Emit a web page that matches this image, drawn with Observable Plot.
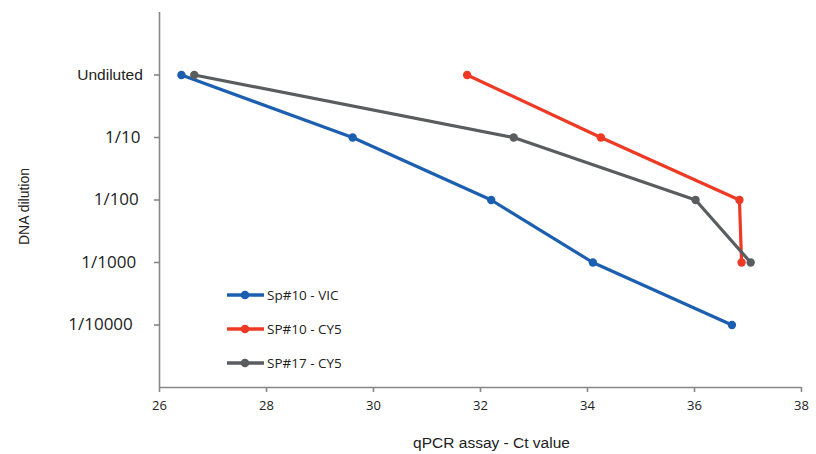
<!DOCTYPE html>
<html>
<head>
<meta charset="utf-8">
<script src="https://cdn.jsdelivr.net/npm/d3@7"></script>
<script src="https://cdn.jsdelivr.net/npm/@observablehq/plot@0.6"></script>
<style>
  html, body { margin: 0; padding: 0; background: #ffffff; }
  #wrap { position: relative; width: 816px; height: 454px; overflow: hidden; }
  .legend { position: absolute; left: 227px; top: 0; font-family: "Open Sans", sans-serif; font-size: 13.5px; color: #222; }
  .row { position: absolute; left: 0; height: 20px; display: flex; align-items: center; white-space: nowrap; }
  .row svg { display: block; margin-right: 3px; }
</style>
</head>
<body>
<div id="wrap"></div>
<script>
// Dilution levels (top to bottom) and their numeric level on the y axis
const dilutions = ["Undiluted", "1/10", "1/100", "1/1000", "1/10000"];
const levels = [5, 4, 3, 2, 1];

// Series names and colours
const seriesNames = ["Sp#10 - VIC", "SP#10 - CY5", "SP#17 - CY5"];
const seriesColors = ["#1c5fb1", "#ee3a24", "#595d60"];

// Ct values per dilution (Undiluted first)
const vicCt   = [26.41, 29.61, 32.20, 34.10, 36.70];
const cy5sp10 = [31.75, 34.25, 36.84, 36.88];
const cy5sp17 = [26.65, 32.62, 36.02, 37.05];

// x tick values
const xTicks = [26, 28, 30, 32, 34, 36, 38];

const seriesValues = [vicCt, cy5sp10, cy5sp17];
const data = seriesValues.flatMap((vals, s) =>
  vals.map((ct, i) => ({series: seriesNames[s], ct, level: levels[i]}))
);

const axisGray = "#878787";
const textColor = "#222";

// per-label style (font and padding) for the y tick labels
const yLabelStyle = [
  {font: "Liberation Sans", size: 15.5, pad: 11.7},
  {font: "Open Sans", size: 17, pad: 14},
  {font: "Open Sans", size: 17, pad: 15.7},
  {font: "Open Sans", size: 17, pad: 18.3},
  {font: "Open Sans", size: 17, pad: 21.7}
];

const yAxes = levels.map((lv, i) => Plot.axisY([lv], {
  tickSize: 5, tickPadding: yLabelStyle[i].pad, stroke: axisGray, strokeWidth: 1.6,
  fill: textColor, fontSize: yLabelStyle[i].size, fontFamily: yLabelStyle[i].font,
  tickFormat: () => dilutions[i], label: null
}));

const chart = Plot.plot({
  width: 816,
  height: 454,
  marginLeft: 159,
  marginRight: 15,
  marginTop: 12,
  marginBottom: 67,
  style: {background: "#ffffff", overflow: "visible"},
  x: {domain: [26, 38]},
  y: {domain: [0, 6]},
  color: {domain: seriesNames, range: seriesColors},
  marks: [
    Plot.ruleY([0], {stroke: axisGray, strokeWidth: 1.6}),
    Plot.ruleX([26], {stroke: axisGray, strokeWidth: 1.6}),
    Plot.axisX(xTicks, {
      tickSize: 5, tickPadding: 8, stroke: axisGray, strokeWidth: 1.6,
      fill: textColor, fontSize: 13, fontFamily: "Open Sans", label: null
    }),
    ...yAxes,
    Plot.line(data, {x: "ct", y: "level", z: "series", stroke: "series", strokeWidth: 3.2, curve: "linear"}),
    Plot.dot(data, {x: "ct", y: "level", fill: "series", r: 4.2, stroke: "none"}),
    Plot.text(["qPCR assay - Ct value"], {
      frameAnchor: "bottom", dx: 11, dy: 56, lineAnchor: "middle",
      fontSize: 15.5, fontFamily: "Liberation Sans", fill: textColor
    }),
    Plot.text(["DNA dilution"], {
      frameAnchor: "left", dx: -134.5, dy: 6.5, rotate: -90, lineAnchor: "middle", textAnchor: "middle",
      fontSize: 14, fontFamily: "Liberation Sans", fill: textColor
    })
  ]
});

const wrap = document.getElementById("wrap");
wrap.appendChild(chart);

// Legend (inside the plot area)
const legend = document.createElement("div");
legend.className = "legend";
const rowTops = [284.5, 318.5, 352.5];
seriesNames.forEach((name, i) => {
  const row = document.createElement("div");
  row.className = "row";
  row.style.top = rowTops[i] + "px";
  row.innerHTML =
    `<svg width="37" height="20"><line x1="0" y1="10" x2="37" y2="10" stroke="${seriesColors[i]}" stroke-width="3.6"/>` +
    `<circle cx="18" cy="10" r="4.3" fill="${seriesColors[i]}"/></svg><span>${name}</span>`;
  legend.appendChild(row);
});
wrap.appendChild(legend);
</script>
</body>
</html>
